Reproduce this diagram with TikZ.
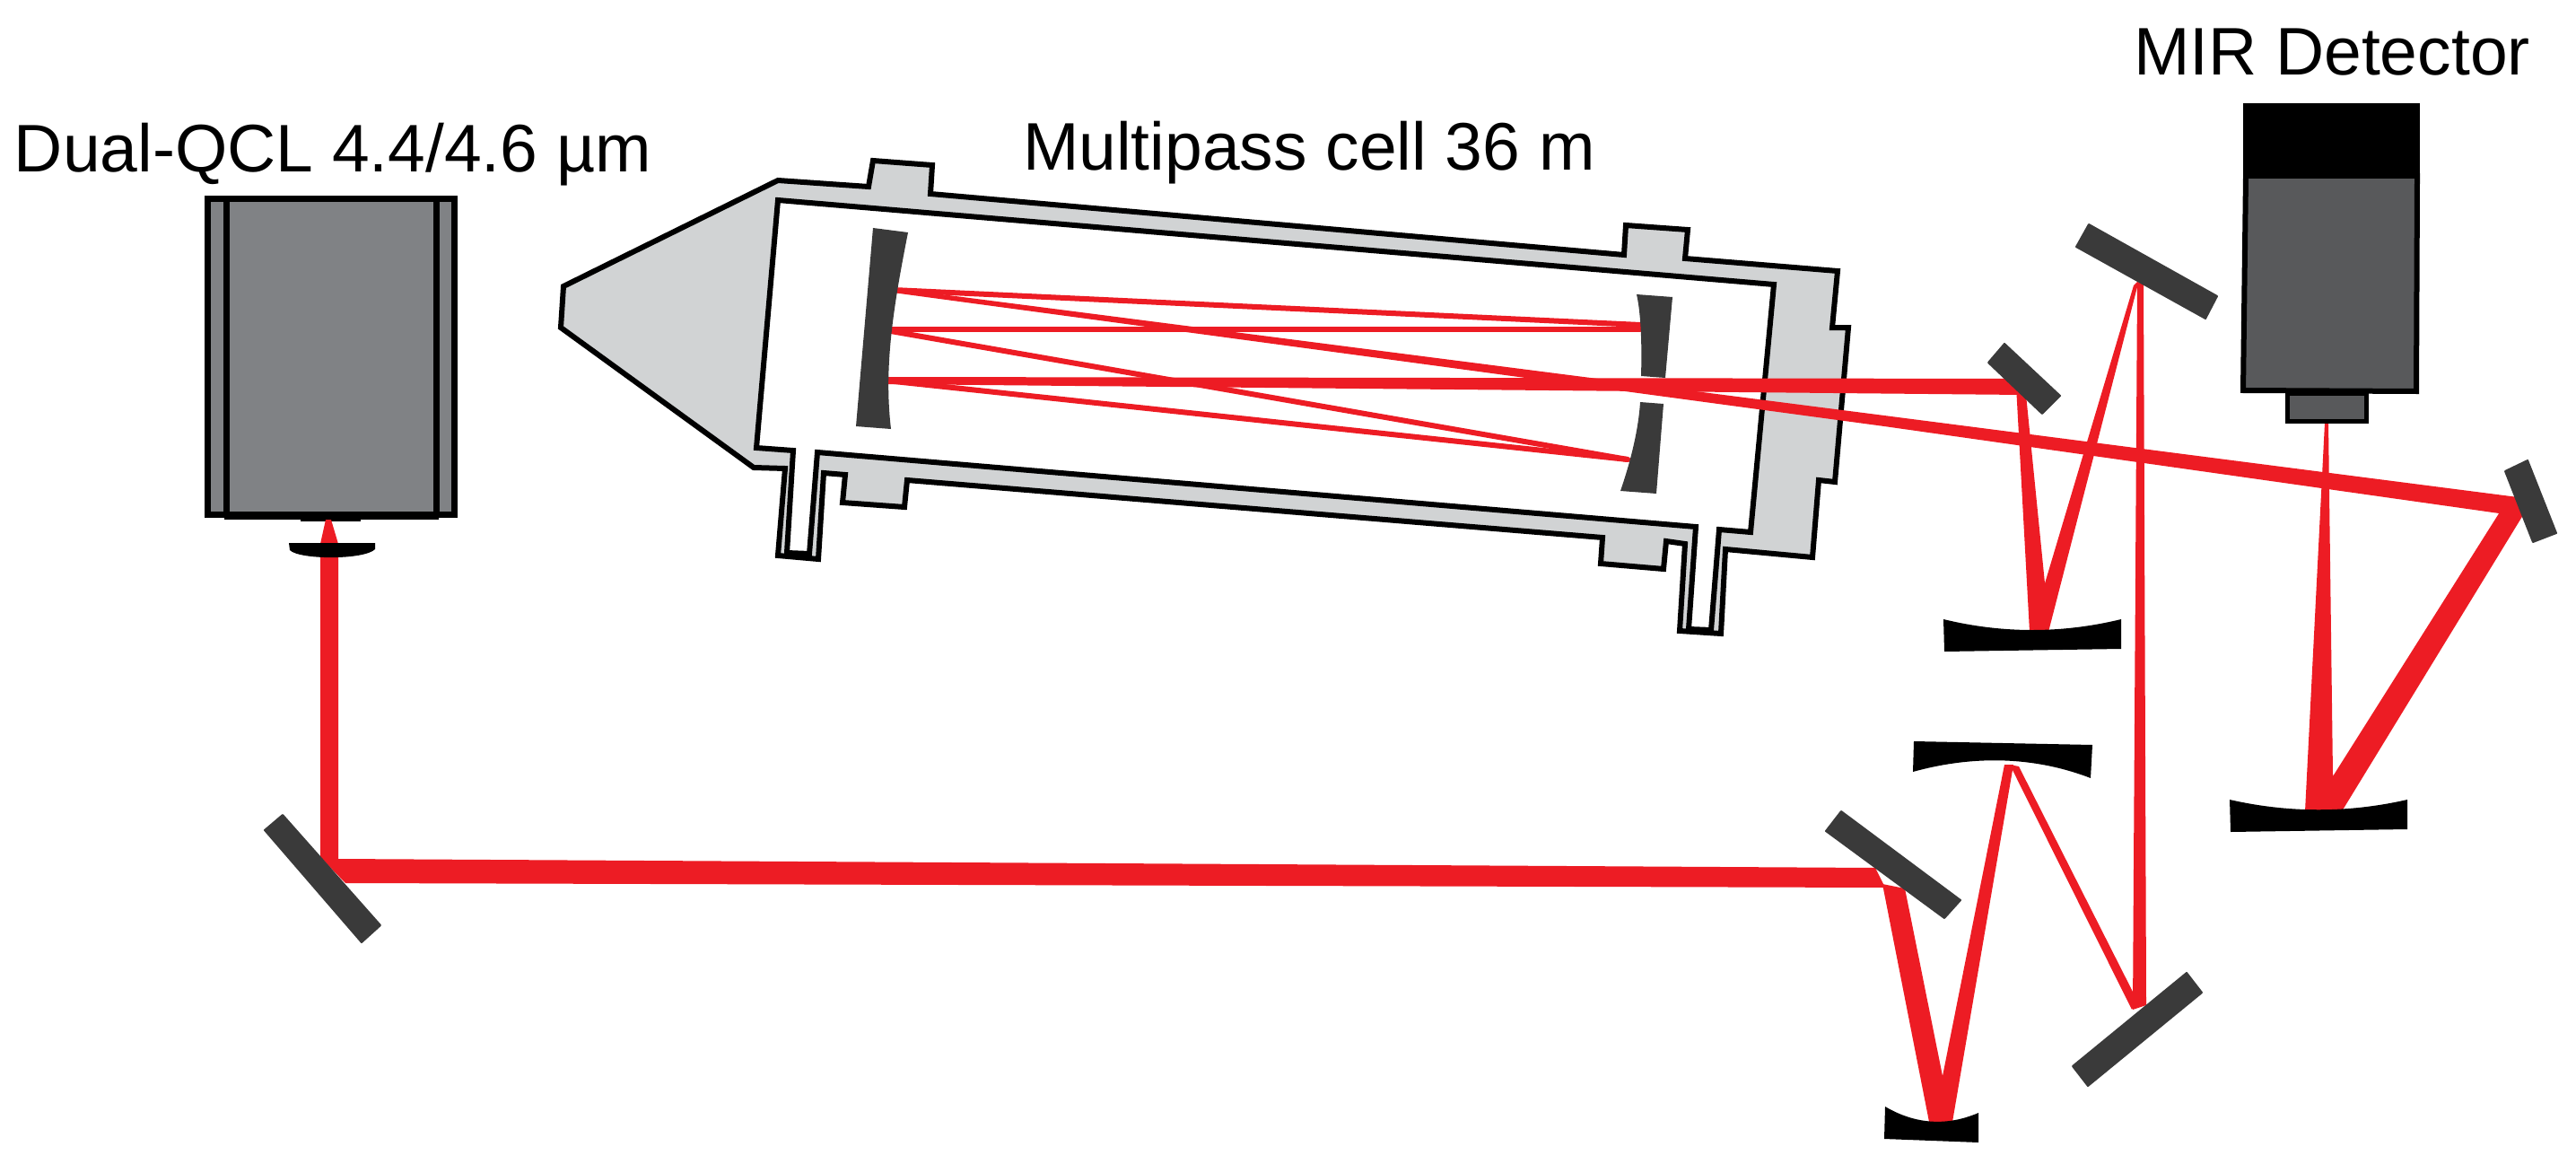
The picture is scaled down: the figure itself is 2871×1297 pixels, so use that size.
\documentclass[tikz,border=0pt]{standalone}
\usepackage{fontspec}
\setmainfont{Liberation Sans}
\definecolor{beamred}{HTML}{ED1C24}
\definecolor{mirrordark}{HTML}{3A3A3A}
\definecolor{lasergray}{HTML}{808285}
\definecolor{cellgray}{HTML}{D1D3D4}
\definecolor{detgray}{HTML}{58595B}
\tikzset{
  beam/.style={fill=beamred,draw=none},
  thinbeam/.style={draw=beamred,line width=6pt,line cap=round},
  flatmirror/.style={fill=mirrordark,draw=mirrordark,line width=2pt,line join=round},
  concavemirror/.style={fill=black,draw=none},
  lbl/.style={anchor=base west,inner sep=0pt,outer sep=0pt,font=\fontsize{75}{80}\selectfont},
  wall/.style={draw=black,line width=6pt,line join=miter},
}
\begin{document}
\begin{tikzpicture}[x=1pt,y=-1pt]
\useasboundingbox (0,0) rectangle (2871,1297);
\fill[white] (0,0) rectangle (2871,1297);
% labels
\node[lbl] (qcl) at (16,192) {Dual-QCL 4.4/4.6 µm};
\node[lbl] (cell) at (1140,190) {Multipass cell 36 m};
\node[lbl] (mir) at (2378,84) {MIR Detector};
% laser
\draw[fill=lasergray,draw=black,line width=7pt] (231,222) rectangle (506,573);
\draw[black,line width=7pt] (252.5,222) -- (252.5,577) (486.5,222) -- (486.5,577);
\draw[black,line width=4pt] (250,577) -- (489,577);
\fill[black] (335,576) rectangle (402,581);
% cell body
\draw[wall,fill=cellgray] (628,319) -- (867,201) -- (968,208) -- (973,179) -- (1039,184) -- (1037,216) -- (1810,284) -- (1812,251) -- (1881,256) -- (1878,288) -- (2048,302) -- (2042,365) -- (2060,365) -- (2045,537) -- (2027,535) -- (2020,621) -- (1923,612) -- (1918,706) -- (1872,703) -- (1878,606) -- (1857,603) -- (1854,634) -- (1784,628) -- (1786,599) -- (1011,535) -- (1008,565) -- (939,560) -- (942,529) -- (918,527) -- (912,623) -- (867,619) -- (875,522) -- (840,521) -- (625,365) -- cycle;
\draw[wall,fill=white] (867,223) -- (1977,317) -- (1951,593) -- (1916,590) -- (1907,702) -- (1882,701) -- (1890,587) -- (911,504) -- (902,617) -- (877,616) -- (884,502) -- (843,499) -- cycle;
% beams in the cell
\draw[thinbeam] (995,323) -- (1828,362);
\draw[thinbeam] (987,367) -- (1828,367);
\draw[thinbeam] (987,368) -- (1814,512);
\draw[thinbeam] (987,424) -- (1814,512);
\fill[beam] (987,420) -- (2247,422) -- (2255,440) -- (987,428) -- cycle;
\fill[beam] (995,321) -- (1500,386) -- (2100,463) -- (2810,554.5) -- (2810,575.5) -- (2100,475) -- (1500,394) -- (995,326) -- cycle;
% beams
\fill[beam] (363,579) -- (369,579) -- (377,606) -- (357,606) -- cycle;
\fill[beam] (357,618) -- (377,618) -- (377,957) -- (2090,967) -- (2101,989) -- (385,984) -- (357,955) -- cycle;
\fill[beam] (2098,985) -- (2123,990) -- (2165,1199) -- (2234,852) -- (2244,852) -- (2176,1250) -- (2150,1250) -- cycle;
\fill[beam] (2240,852) -- (2250,854) -- (2382,1115) -- (2376,1125) -- cycle;
\fill[beam] (2382,315) -- (2389,315) -- (2392,1120) -- (2377,1125) -- cycle;
\fill[beam] (2247,430) -- (2258,440) -- (2279,650) -- (2378,318) -- (2384,312) -- (2283,704) -- (2262,704) -- cycle;
\fill[beam] (2591,471) -- (2595,471) -- (2600,865) -- (2787,569) -- (2815,569) -- (2610,904) -- (2569,904) -- cycle;
% detector
\fill[black] (2500,115) rectangle (2697,196);
\draw[black,line width=6pt,fill=detgray] (2503,196) -- (2694,196) -- (2693,436) -- (2500,435) -- cycle;
\draw[black,line width=5pt,fill=detgray] (2549,438) -- (2637,438) -- (2637,469) -- (2549,469) -- cycle;
% lens
\fill[concavemirror] (322,605) -- (418,605) -- (418,612) .. controls (406,624) and (334,624) .. (323,613) -- cycle;
% flat mirrors
\path[flatmirror] (295,925) -- (315,908) -- (424,1031) -- (403,1050) -- cycle;
\path[flatmirror] (2052,904) -- (2035,926) -- (2167,1023) -- (2185,1003) -- cycle;
\path[flatmirror] (2437,1084) -- (2454,1106) -- (2327,1210) -- (2310,1188) -- cycle;
\path[flatmirror] (2328,250) -- (2314,275) -- (2458,355) -- (2471,330) -- cycle;
\path[flatmirror] (2817,513) -- (2792,525) -- (2823,604) -- (2849,594) -- cycle;
\path[flatmirror] (2234,383) -- (2216,404) -- (2276,461) -- (2296,441) -- cycle;
% concave mirrors
\fill[concavemirror] (2166,690) .. controls (2232,706) and (2298,706) .. (2364,690) -- (2364,723) -- (2167,726) -- cycle;
\fill[concavemirror] (2485,891) .. controls (2551,906) and (2617,906) .. (2683,891) -- (2683,924) -- (2486,927) -- cycle;
\fill[concavemirror] (2133,826) -- (2332,830) -- (2330,867) .. controls (2265,842) and (2197,842) .. (2132,860) -- cycle;
\fill[concavemirror] (2101,1233) .. controls (2135,1253) and (2170,1255) .. (2205,1240) -- (2205,1273) -- (2100,1269) -- cycle;
% cell mirrors
\fill[mirrordark] (973,254) -- (1012,259) .. controls (995,345) and (985,410) .. (993,478) -- (954,475) -- cycle;
\fill[mirrordark] (1824,328) -- (1864,331) -- (1856,421) -- (1829,419) .. controls (1830,385) and (1829,350) .. (1824,328) -- cycle;
\fill[mirrordark] (1828,448) -- (1854,450) -- (1846,550) -- (1806,547) .. controls (1817,515) and (1826,480) .. (1828,448) -- cycle;
\end{tikzpicture}
\end{document}
